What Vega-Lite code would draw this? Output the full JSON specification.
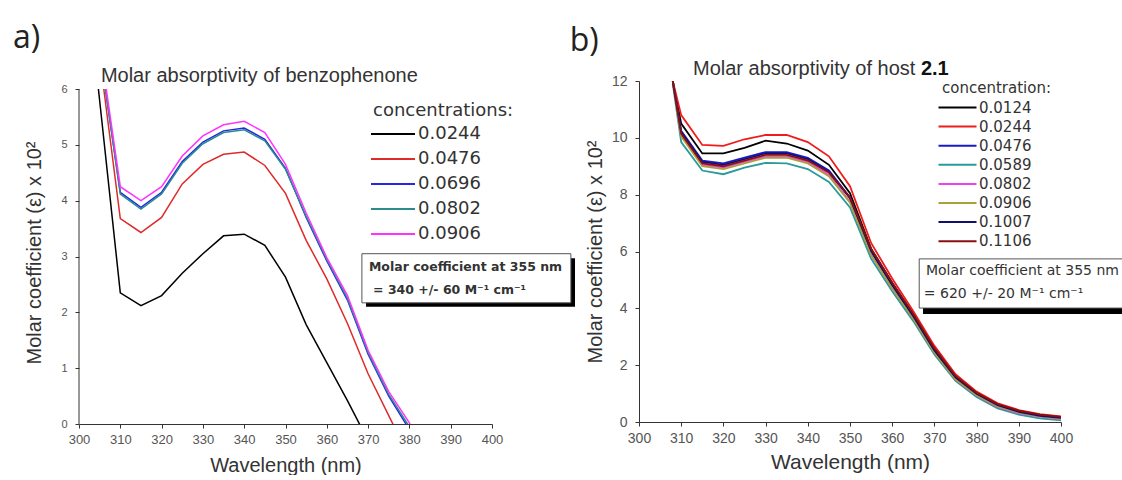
{
  "$schema": "https://vega.github.io/schema/vega-lite/v6.json",
  "padding": {"left": 12, "top": 21, "right": 0, "bottom": 0},
  "spacing": -7,
  "bounds": "full",
  "config": {
    "view": {"stroke": null},
    "axis": {"grid": false, "labelFont": "Liberation Sans", "titleFont": "Liberation Sans", "titleFontWeight": "normal", "titleColor": "#333", "labelColor": "#555", "domainColor": "#333", "tickColor": "#333", "labelOverlap": false, "labelFlush": false}
  },
  "resolve": {"scale": {"color": "independent", "x": "independent", "y": "independent"}, "legend": {"color": "independent"}},
  "datasets": {
    "L": [
      {"c":"0.0244","w":304.7,"v":6.0},{"c":"0.0244","w":310,"v":2.35},{"c":"0.0244","w":315,"v":2.12},{"c":"0.0244","w":320,"v":2.3},{"c":"0.0244","w":325,"v":2.7},{"c":"0.0244","w":330,"v":3.05},{"c":"0.0244","w":335,"v":3.37},{"c":"0.0244","w":340,"v":3.4},{"c":"0.0244","w":345,"v":3.2},{"c":"0.0244","w":350,"v":2.63},{"c":"0.0244","w":355,"v":1.78},{"c":"0.0244","w":360,"v":1.1},{"c":"0.0244","w":365,"v":0.42},{"c":"0.0244","w":370,"v":-0.3},
      {"c":"0.0476","w":306.0,"v":6.0},{"c":"0.0476","w":310,"v":3.68},{"c":"0.0476","w":315,"v":3.43},{"c":"0.0476","w":320,"v":3.7},{"c":"0.0476","w":325,"v":4.3},{"c":"0.0476","w":330,"v":4.65},{"c":"0.0476","w":335,"v":4.83},{"c":"0.0476","w":340,"v":4.87},{"c":"0.0476","w":345,"v":4.63},{"c":"0.0476","w":350,"v":4.13},{"c":"0.0476","w":355,"v":3.29},{"c":"0.0476","w":360,"v":2.6},{"c":"0.0476","w":365,"v":1.8},{"c":"0.0476","w":370,"v":0.9},{"c":"0.0476","w":375,"v":0.15},{"c":"0.0476","w":380,"v":-0.6},
      {"c":"0.0696","w":306.4,"v":6.0},{"c":"0.0696","w":310,"v":4.15},{"c":"0.0696","w":315,"v":3.88},{"c":"0.0696","w":320,"v":4.15},{"c":"0.0696","w":325,"v":4.7},{"c":"0.0696","w":330,"v":5.05},{"c":"0.0696","w":335,"v":5.25},{"c":"0.0696","w":340,"v":5.3},{"c":"0.0696","w":345,"v":5.1},{"c":"0.0696","w":350,"v":4.58},{"c":"0.0696","w":355,"v":3.7},{"c":"0.0696","w":360,"v":2.92},{"c":"0.0696","w":365,"v":2.22},{"c":"0.0696","w":370,"v":1.25},{"c":"0.0696","w":375,"v":0.5},{"c":"0.0696","w":380,"v":-0.1},
      {"c":"0.0802","w":306.4,"v":6.0},{"c":"0.0802","w":310,"v":4.12},{"c":"0.0802","w":315,"v":3.85},{"c":"0.0802","w":320,"v":4.12},{"c":"0.0802","w":325,"v":4.67},{"c":"0.0802","w":330,"v":5.02},{"c":"0.0802","w":335,"v":5.22},{"c":"0.0802","w":340,"v":5.27},{"c":"0.0802","w":345,"v":5.07},{"c":"0.0802","w":350,"v":4.56},{"c":"0.0802","w":355,"v":3.72},{"c":"0.0802","w":360,"v":2.95},{"c":"0.0802","w":365,"v":2.25},{"c":"0.0802","w":370,"v":1.28},{"c":"0.0802","w":375,"v":0.53},{"c":"0.0802","w":380,"v":-0.05},
      {"c":"0.0906","w":306.6,"v":6.0},{"c":"0.0906","w":310,"v":4.25},{"c":"0.0906","w":315,"v":4.0},{"c":"0.0906","w":320,"v":4.25},{"c":"0.0906","w":325,"v":4.8},{"c":"0.0906","w":330,"v":5.16},{"c":"0.0906","w":335,"v":5.36},{"c":"0.0906","w":340,"v":5.42},{"c":"0.0906","w":345,"v":5.22},{"c":"0.0906","w":350,"v":4.65},{"c":"0.0906","w":355,"v":3.78},{"c":"0.0906","w":360,"v":2.98},{"c":"0.0906","w":365,"v":2.3},{"c":"0.0906","w":370,"v":1.32},{"c":"0.0906","w":375,"v":0.58},{"c":"0.0906","w":380,"v":0.02},{"c":"0.0906","w":385,"v":-0.8}
    ],
    "R": [
      {"c":"0.0124","w":308,"v":12},{"c":"0.0124","w":310,"v":10.5},{"c":"0.0124","w":315,"v":9.45},{"c":"0.0124","w":320,"v":9.45},{"c":"0.0124","w":325,"v":9.65},{"c":"0.0124","w":330,"v":9.9},{"c":"0.0124","w":335,"v":9.8},{"c":"0.0124","w":340,"v":9.55},{"c":"0.0124","w":345,"v":9.05},{"c":"0.0124","w":350,"v":8.05},{"c":"0.0124","w":355,"v":6.1},{"c":"0.0124","w":360,"v":4.9},{"c":"0.0124","w":365,"v":3.78},{"c":"0.0124","w":370,"v":2.57},{"c":"0.0124","w":375,"v":1.6},{"c":"0.0124","w":380,"v":1.0},{"c":"0.0124","w":385,"v":0.6},{"c":"0.0124","w":390,"v":0.37},{"c":"0.0124","w":395,"v":0.23},{"c":"0.0124","w":400,"v":0.15},
      {"c":"0.0244","w":308,"v":12},{"c":"0.0244","w":310,"v":10.8},{"c":"0.0244","w":315,"v":9.75},{"c":"0.0244","w":320,"v":9.72},{"c":"0.0244","w":325,"v":9.95},{"c":"0.0244","w":330,"v":10.1},{"c":"0.0244","w":335,"v":10.1},{"c":"0.0244","w":340,"v":9.85},{"c":"0.0244","w":345,"v":9.35},{"c":"0.0244","w":350,"v":8.3},{"c":"0.0244","w":355,"v":6.3},{"c":"0.0244","w":360,"v":5.05},{"c":"0.0244","w":365,"v":3.9},{"c":"0.0244","w":370,"v":2.68},{"c":"0.0244","w":375,"v":1.68},{"c":"0.0244","w":380,"v":1.07},{"c":"0.0244","w":385,"v":0.66},{"c":"0.0244","w":390,"v":0.42},{"c":"0.0244","w":395,"v":0.28},{"c":"0.0244","w":400,"v":0.2},
      {"c":"0.0476","w":308,"v":12},{"c":"0.0476","w":310,"v":10.25},{"c":"0.0476","w":315,"v":9.2},{"c":"0.0476","w":320,"v":9.1},{"c":"0.0476","w":325,"v":9.3},{"c":"0.0476","w":330,"v":9.5},{"c":"0.0476","w":335,"v":9.5},{"c":"0.0476","w":340,"v":9.3},{"c":"0.0476","w":345,"v":8.85},{"c":"0.0476","w":350,"v":7.9},{"c":"0.0476","w":355,"v":6.0},{"c":"0.0476","w":360,"v":4.8},{"c":"0.0476","w":365,"v":3.7},{"c":"0.0476","w":370,"v":2.5},{"c":"0.0476","w":375,"v":1.55},{"c":"0.0476","w":380,"v":0.97},{"c":"0.0476","w":385,"v":0.57},{"c":"0.0476","w":390,"v":0.34},{"c":"0.0476","w":395,"v":0.21},{"c":"0.0476","w":400,"v":0.13},
      {"c":"0.0589","w":308,"v":11.9},{"c":"0.0589","w":310,"v":9.85},{"c":"0.0589","w":315,"v":8.85},{"c":"0.0589","w":320,"v":8.72},{"c":"0.0589","w":325,"v":8.95},{"c":"0.0589","w":330,"v":9.12},{"c":"0.0589","w":335,"v":9.1},{"c":"0.0589","w":340,"v":8.9},{"c":"0.0589","w":345,"v":8.45},{"c":"0.0589","w":350,"v":7.55},{"c":"0.0589","w":355,"v":5.75},{"c":"0.0589","w":360,"v":4.6},{"c":"0.0589","w":365,"v":3.55},{"c":"0.0589","w":370,"v":2.38},{"c":"0.0589","w":375,"v":1.45},{"c":"0.0589","w":380,"v":0.88},{"c":"0.0589","w":385,"v":0.48},{"c":"0.0589","w":390,"v":0.26},{"c":"0.0589","w":395,"v":0.13},{"c":"0.0589","w":400,"v":0.06},
      {"c":"0.0802","w":308,"v":12},{"c":"0.0802","w":310,"v":10.1},{"c":"0.0802","w":315,"v":9.05},{"c":"0.0802","w":320,"v":8.95},{"c":"0.0802","w":325,"v":9.15},{"c":"0.0802","w":330,"v":9.35},{"c":"0.0802","w":335,"v":9.35},{"c":"0.0802","w":340,"v":9.15},{"c":"0.0802","w":345,"v":8.7},{"c":"0.0802","w":350,"v":7.75},{"c":"0.0802","w":355,"v":5.9},{"c":"0.0802","w":360,"v":4.72},{"c":"0.0802","w":365,"v":3.64},{"c":"0.0802","w":370,"v":2.45},{"c":"0.0802","w":375,"v":1.5},{"c":"0.0802","w":380,"v":0.93},{"c":"0.0802","w":385,"v":0.53},{"c":"0.0802","w":390,"v":0.31},{"c":"0.0802","w":395,"v":0.19},{"c":"0.0802","w":400,"v":0.1},
      {"c":"0.0906","w":308,"v":12},{"c":"0.0906","w":310,"v":10.05},{"c":"0.0906","w":315,"v":9.0},{"c":"0.0906","w":320,"v":8.9},{"c":"0.0906","w":325,"v":9.1},{"c":"0.0906","w":330,"v":9.3},{"c":"0.0906","w":335,"v":9.3},{"c":"0.0906","w":340,"v":9.1},{"c":"0.0906","w":345,"v":8.65},{"c":"0.0906","w":350,"v":7.72},{"c":"0.0906","w":355,"v":5.88},{"c":"0.0906","w":360,"v":4.7},{"c":"0.0906","w":365,"v":3.63},{"c":"0.0906","w":370,"v":2.44},{"c":"0.0906","w":375,"v":1.5},{"c":"0.0906","w":380,"v":0.94},{"c":"0.0906","w":385,"v":0.55},{"c":"0.0906","w":390,"v":0.33},{"c":"0.0906","w":395,"v":0.2},{"c":"0.0906","w":400,"v":0.12},
      {"c":"0.1007","w":308,"v":12},{"c":"0.1007","w":310,"v":10.2},{"c":"0.1007","w":315,"v":9.15},{"c":"0.1007","w":320,"v":9.05},{"c":"0.1007","w":325,"v":9.25},{"c":"0.1007","w":330,"v":9.45},{"c":"0.1007","w":335,"v":9.45},{"c":"0.1007","w":340,"v":9.25},{"c":"0.1007","w":345,"v":8.8},{"c":"0.1007","w":350,"v":7.88},{"c":"0.1007","w":355,"v":6.02},{"c":"0.1007","w":360,"v":4.82},{"c":"0.1007","w":365,"v":3.72},{"c":"0.1007","w":370,"v":2.52},{"c":"0.1007","w":375,"v":1.57},{"c":"0.1007","w":380,"v":0.99},{"c":"0.1007","w":385,"v":0.59},{"c":"0.1007","w":390,"v":0.36},{"c":"0.1007","w":395,"v":0.22},{"c":"0.1007","w":400,"v":0.15},
      {"c":"0.1106","w":308,"v":12},{"c":"0.1106","w":310,"v":10.15},{"c":"0.1106","w":315,"v":9.1},{"c":"0.1106","w":320,"v":9.0},{"c":"0.1106","w":325,"v":9.2},{"c":"0.1106","w":330,"v":9.4},{"c":"0.1106","w":335,"v":9.4},{"c":"0.1106","w":340,"v":9.2},{"c":"0.1106","w":345,"v":8.78},{"c":"0.1106","w":350,"v":7.9},{"c":"0.1106","w":355,"v":6.1},{"c":"0.1106","w":360,"v":4.9},{"c":"0.1106","w":365,"v":3.8},{"c":"0.1106","w":370,"v":2.6},{"c":"0.1106","w":375,"v":1.62},{"c":"0.1106","w":380,"v":1.03},{"c":"0.1106","w":385,"v":0.63},{"c":"0.1106","w":390,"v":0.4},{"c":"0.1106","w":395,"v":0.26},{"c":"0.1106","w":400,"v":0.18}
    ]
  },
  "hconcat": [
    {
      "width": 413,
      "height": 343,
      "layer": [
        {
          "data": {"name": "L"},
          "mark": {"type": "line", "clip": true, "strokeWidth": 1.5},
          "encoding": {
            "x": {"field": "w", "type": "quantitative", "scale": {"domain": [300, 400], "nice": false, "zero": false},
              "axis": {"values": [300,305,310,315,320,325,330,335,340,345,350,355,360,365,370,375,380,385,390,395,400], "labelExpr": "datum.value % 10 == 0 ? datum.label : ''", "labelFontSize": 13, "labelPadding": 5, "tickSize": 4, "title": "Wavelength (nm)", "titleFontSize": 20, "titlePadding": 9}},
            "y": {"field": "v", "type": "quantitative", "scale": {"domain": [0, 6.1433], "nice": false},
              "axis": {"values": [0,0.5,1,1.5,2,2.5,3,3.5,4,4.5,5,5.5,6], "format": ".0f", "labelExpr": "datum.value % 1 == 0 ? datum.label : ''", "domain": false, "labelFontSize": 11, "labelPadding": 8, "tickSize": 4, "title": "Molar coefficient (ε) x 10²", "titleFontSize": 20, "titlePadding": 16}},
            "color": {"field": "c", "type": "nominal",
              "scale": {"domain": ["0.0244","0.0476","0.0696","0.0802","0.0906"], "range": ["#000000","#e02a2a","#2626e6","#2a8c8c","#ff33ff"]},
              "legend": {"orient": "none", "legendX": 294, "legendY": 21, "title": "concentrations:", "titleFont": "DejaVu Sans", "titleFontSize": 18, "titleFontWeight": "normal", "titleColor": "#333", "titlePadding": 5, "labelFont": "DejaVu Sans", "labelFontSize": 18, "labelColor": "#333", "symbolType": "M-2.2,0H6.6", "symbolSize": 100, "symbolStrokeWidth": 2, "labelOffset": 27, "rowPadding": 7}}
          }
        },
        {
          "data": {"values": [{"x": 300, "y1": 0, "y2": 6}]},
          "mark": {"type": "rule", "color": "#333", "strokeWidth": 1},
          "encoding": {
            "x": {"field": "x", "type": "quantitative", "scale": {"domain": [300, 400]}},
            "y": {"field": "y1", "type": "quantitative", "scale": {"domain": [0, 6.1433]}},
            "y2": {"field": "y2"}
          }
        },
        {
          "data": {"values": [{"x1": 369.5, "x2": 420.1, "y1": 2.1, "y2": 2.97}]},
          "mark": {"type": "rect", "color": "#000000"},
          "encoding": {
            "x": {"field": "x1", "type": "quantitative", "scale": {"domain": [300, 400]}},
            "x2": {"field": "x2"},
            "y": {"field": "y1", "type": "quantitative", "scale": {"domain": [0, 6.1433]}},
            "y2": {"field": "y2"}
          }
        },
        {
          "data": {"values": [{"x1": 368.5, "x2": 419.1, "y1": 2.17, "y2": 3.05}]},
          "mark": {"type": "rect", "fill": "#ffffff", "stroke": "#555555", "strokeWidth": 1},
          "encoding": {
            "x": {"field": "x1", "type": "quantitative", "scale": {"domain": [300, 400]}},
            "x2": {"field": "x2"},
            "y": {"field": "y1", "type": "quantitative", "scale": {"domain": [0, 6.1433]}},
            "y2": {"field": "y2"}
          }
        },
        {
          "data": {"values": [{"x": 370.2, "y": 2.81, "t": "Molar coefficient at 355 nm"}, {"x": 371.2, "y": 2.4, "t": "= 340 +/- 60 M⁻¹ cm⁻¹"}]},
          "mark": {"type": "text", "font": "DejaVu Sans", "fontSize": 12.5, "fontWeight": "bold", "align": "left", "baseline": "middle", "color": "#333"},
          "encoding": {
            "x": {"field": "x", "type": "quantitative", "scale": {"domain": [300, 400]}},
            "y": {"field": "y", "type": "quantitative", "scale": {"domain": [0, 6.1433]}},
            "text": {"field": "t"}
          }
        },
        {
          "data": {"values": [{"x": 284.0, "y": 6.735, "t": "a)"}]},
          "mark": {"type": "text", "font": "Open Sans", "fontSize": 32, "align": "left", "baseline": "alphabetic", "color": "#222"},
          "encoding": {
            "x": {"field": "x", "type": "quantitative", "scale": {"domain": [300, 400]}},
            "y": {"field": "y", "type": "quantitative", "scale": {"domain": [0, 6.1433]}},
            "text": {"field": "t"}
          }
        },
        {
          "data": {"values": [{"x": 305.3, "y": 6.13, "t": "Molar absorptivity of benzophenone"}]},
          "mark": {"type": "text", "font": "Liberation Sans", "fontSize": 20, "align": "left", "baseline": "alphabetic", "color": "#333"},
          "encoding": {
            "x": {"field": "x", "type": "quantitative", "scale": {"domain": [300, 400]}},
            "y": {"field": "y", "type": "quantitative", "scale": {"domain": [0, 6.1433]}},
            "text": {"field": "t"}
          }
        }
      ]
    },
    {
      "width": 422,
      "height": 341,
      "layer": [
        {
          "data": {"name": "R"},
          "mark": {"type": "line", "clip": true, "strokeWidth": 1.8},
          "encoding": {
            "x": {"field": "w", "type": "quantitative", "scale": {"domain": [300, 400], "nice": false, "zero": false},
              "axis": {"values": [300,305,310,315,320,325,330,335,340,345,350,355,360,365,370,375,380,385,390,395,400], "labelExpr": "datum.value % 10 == 0 ? datum.label : ''", "labelFontSize": 14, "labelPadding": 5, "tickSize": 4, "title": "Wavelength (nm)", "titleFontSize": 21, "titlePadding": 6}},
            "y": {"field": "v", "type": "quantitative", "scale": {"domain": [0, 12], "nice": false},
              "axis": {"values": [0,1,2,3,4,5,6,7,8,9,10,11,12], "labelExpr": "datum.value % 2 == 0 ? datum.label : ''", "labelFontSize": 14, "labelPadding": 8, "tickSize": 4, "title": "Molar coefficient (ε) x 10²", "titleFontSize": 20, "titlePadding": 6}},
            "color": {"field": "c", "type": "nominal",
              "scale": {"domain": ["0.0124","0.0244","0.0476","0.0589","0.0802","0.0906","0.1007","0.1106"], "range": ["#000000","#ee1c1c","#1a1acc","#2a9a9a","#f040f0","#a8a038","#10106a","#8a1010"]},
              "legend": {"orient": "none", "legendX": 303, "legendY": 0, "title": "concentration:", "titleFont": "DejaVu Sans", "titleFontSize": 15, "titleFontWeight": "normal", "titleColor": "#333", "titlePadding": 4, "labelFont": "DejaVu Sans", "labelFontSize": 15, "labelColor": "#333", "symbolType": "M-2.75,0H6.75", "symbolSize": 64, "symbolStrokeWidth": 2, "labelOffset": 22, "rowPadding": 3.1}}
          }
        },
        {
          "data": {"values": [{"x1": 367.3, "x2": 414.9, "y1": 3.8, "y2": 5.6}]},
          "mark": {"type": "rect", "color": "#000000"},
          "encoding": {
            "x": {"field": "x1", "type": "quantitative", "scale": {"domain": [300, 400]}},
            "x2": {"field": "x2"},
            "y": {"field": "y1", "type": "quantitative", "scale": {"domain": [0, 12]}},
            "y2": {"field": "y2"}
          }
        },
        {
          "data": {"values": [{"x1": 366.4, "x2": 414.9, "y1": 4.01, "y2": 5.74}]},
          "mark": {"type": "rect", "fill": "#ffffff", "stroke": "#555555", "strokeWidth": 1},
          "encoding": {
            "x": {"field": "x1", "type": "quantitative", "scale": {"domain": [300, 400]}},
            "x2": {"field": "x2"},
            "y": {"field": "y1", "type": "quantitative", "scale": {"domain": [0, 12]}},
            "y2": {"field": "y2"}
          }
        },
        {
          "data": {"values": [{"x": 368.0, "y": 5.31, "t": "Molar coefficient at 355 nm"}, {"x": 367.5, "y": 4.5, "t": "= 620 +/- 20 M⁻¹ cm⁻¹"}]},
          "mark": {"type": "text", "font": "DejaVu Sans", "fontSize": 14, "align": "left", "baseline": "middle", "color": "#333"},
          "encoding": {
            "x": {"field": "x", "type": "quantitative", "scale": {"domain": [300, 400]}},
            "y": {"field": "y", "type": "quantitative", "scale": {"domain": [0, 12]}},
            "text": {"field": "t"}
          }
        },
        {
          "data": {"values": [{"x": 283.6, "y": 13.06, "t": "b)"}]},
          "mark": {"type": "text", "font": "Open Sans", "fontSize": 32, "align": "left", "baseline": "alphabetic", "color": "#222"},
          "encoding": {
            "x": {"field": "x", "type": "quantitative", "scale": {"domain": [300, 400]}},
            "y": {"field": "y", "type": "quantitative", "scale": {"domain": [0, 12]}},
            "text": {"field": "t"}
          }
        },
        {
          "data": {"values": [{"x": 312.8, "y": 12.21, "t": "Molar absorptivity of host"}]},
          "mark": {"type": "text", "font": "Liberation Sans", "fontSize": 20, "align": "left", "baseline": "alphabetic", "color": "#333"},
          "encoding": {
            "x": {"field": "x", "type": "quantitative", "scale": {"domain": [300, 400]}},
            "y": {"field": "y", "type": "quantitative", "scale": {"domain": [0, 12]}},
            "text": {"field": "t"}
          }
        },
        {
          "data": {"values": [{"x": 366.8, "y": 12.21, "t": "2.1"}]},
          "mark": {"type": "text", "font": "Liberation Sans", "fontSize": 20, "fontWeight": "bold", "align": "left", "baseline": "alphabetic", "color": "#111"},
          "encoding": {
            "x": {"field": "x", "type": "quantitative", "scale": {"domain": [300, 400]}},
            "y": {"field": "y", "type": "quantitative", "scale": {"domain": [0, 12]}},
            "text": {"field": "t"}
          }
        }
      ]
    }
  ]
}
